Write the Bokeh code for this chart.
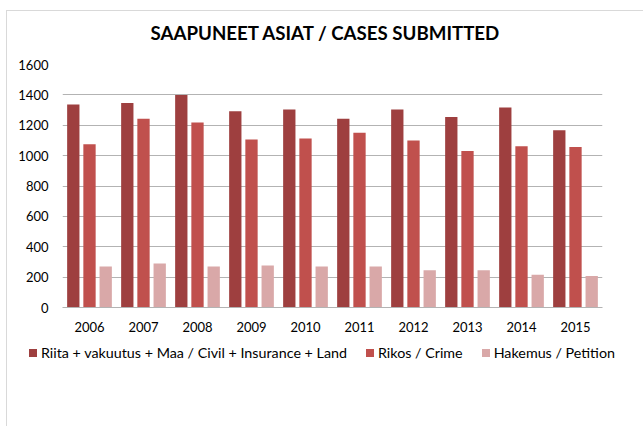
from bokeh.plotting import figure
from bokeh.models import ColumnDataSource, FactorRange, Label, Range1d, Div
from bokeh.layouts import column
from bokeh.transform import dodge
from bokeh.embed import file_html
from bokeh.resources import INLINE

years = ["2006", "2007", "2008", "2009", "2010", "2011", "2012", "2013", "2014", "2015"]
civil = [1336, 1347, 1400, 1293, 1304, 1242, 1304, 1255, 1317, 1167]
crime = [1075, 1242, 1218, 1106, 1113, 1150, 1099, 1031, 1062, 1056]
petition = [270, 290, 270, 277, 270, 270, 246, 246, 215, 208]
y_ticks = [0, 200, 400, 600, 800, 1000, 1200, 1400, 1600]
labels = ["Riita + vakuutus + Maa / Civil + Insurance + Land", "Rikos / Crime", "Hakemus / Petition"]
colors = ["#9e3f3f", "#c0504d", "#d9a8a8"]
title_text = "SAAPUNEET  ASIAT / CASES SUBMITTED"
series = ["civil", "crime", "petition"]
offsets = [-0.3, 0.0, 0.3]

FONT = "Lato"
W = 636

src = ColumnDataSource(dict(years=years, civil=civil, crime=crime, petition=petition))
xr = FactorRange(*years, range_padding=0)

# ---- title strip ----
pt = figure(width=W, height=43, x_range=Range1d(0, 1), y_range=Range1d(0, 1),
            x_axis_location=None, y_axis_location=None, output_backend="svg",
            toolbar_location=None, min_border=0)
pt.outline_line_color = None
pt.grid.visible = False
pt.add_layout(Label(x=88, y=22, x_units="screen", y_units="screen", text=title_text,
                    text_font=FONT, text_font_size="18.7px", text_font_style="bold",
                    text_color="#000000", text_baseline="alphabetic", text_align="left"))

# ---- main chart ----
p = figure(x_range=xr, y_range=Range1d(0, 1600), width=W, height=288,
           output_backend="svg", toolbar_location=None,
           min_border_left=55, min_border_right=41, min_border_top=10, min_border_bottom=35)
p.title = None
for s, off, c in zip(series, offsets, colors):
    p.vbar(x=dodge("years", off, range=xr), top=s, width=0.228, source=src,
           fill_color=c, line_color=None)

p.outline_line_color = None
p.xgrid.grid_line_color = None
p.ygrid.grid_line_color = "#b3b3b3"
p.ygrid.grid_line_width = 1.2
p.yaxis.ticker = y_ticks
p.yaxis.axis_line_color = None
p.yaxis.major_tick_line_color = None
p.yaxis.minor_tick_line_color = None
p.yaxis.major_tick_out = 0
p.yaxis.major_label_text_font = FONT
p.yaxis.major_label_text_font_size = "13px"
p.yaxis.major_label_text_color = "#000000"
p.yaxis.major_label_standoff = 14
p.xaxis.axis_line_color = "#b3b3b3"
p.xaxis.axis_line_width = 1.2
p.xaxis.major_tick_line_color = None
p.xaxis.minor_tick_line_color = None
p.xaxis.major_tick_out = 0
p.xaxis.major_label_text_font = FONT
p.xaxis.major_label_text_font_size = "13px"
p.xaxis.major_label_text_color = "#000000"
p.xaxis.major_label_standoff = 14

# ---- legend strip (HTML, built from the series labels and colours) ----
item_html = "".join(
    f'<span style="display:inline-block;width:8px;height:8px;background:{c};'
    f'margin-right:4px;vertical-align:middle;"></span>'
    f'<span style="margin-right:19px;vertical-align:middle;">{lab}</span>'
    for lab, c in zip(labels, colors))
legend_div = Div(
    text=f'<div style="font-family:Lato;font-size:14.3px;color:#000000;white-space:nowrap;'
         f'line-height:20px;padding-left:22px;">{item_html}</div>',
    width=W, height=84, margin=0)

layout = column(pt, p, legend_div, spacing=0, margin=(10, 0, 0, 6),
                styles={"border-left": "1px solid #d9d9d9", "border-top": "1px solid #d9d9d9"})

open("out.html", "w").write(file_html(layout, INLINE))
